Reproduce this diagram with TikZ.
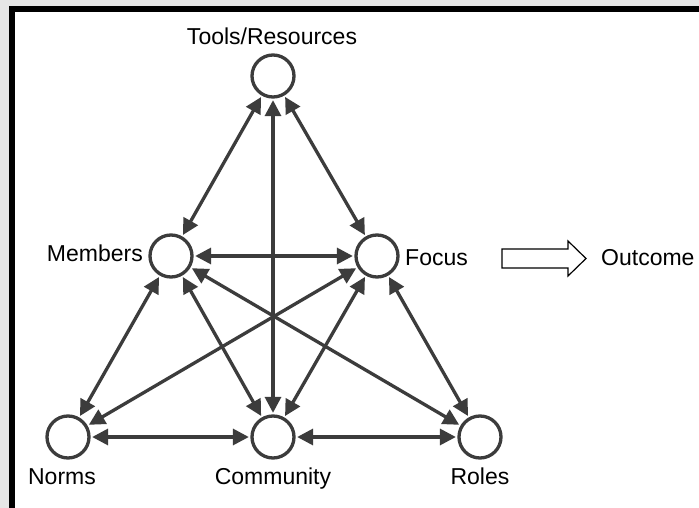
\documentclass[tikz,border=0pt]{standalone}
\usepackage{fontspec}
\setmainfont{Liberation Sans}
\usetikzlibrary{arrows.meta}

\definecolor{edgegray}{HTML}{3C3C3C}
\definecolor{framegray}{HTML}{E6E6E6}

\tikzset{
  member/.style={circle, draw=edgegray, line width=3.3pt, fill=white,
    minimum size=42pt, inner sep=0pt},
  caption/.style={font=\fontsize{23}{27}\selectfont, inner sep=0pt, anchor=base},
  link/.style={draw=edgegray, line width=3.3pt,
    {Triangle[length=16pt,width=16pt]}-{Triangle[length=16pt,width=16pt]},
    shorten <=1.5pt, shorten >=1.5pt}
}

\begin{document}
\begin{tikzpicture}[x=1pt,y=-1pt]
    % frame
    \fill[framegray] (0,0) rectangle (699,508);
    \fill[black] (9,6) rectangle (699,508);
    \fill[white] (15,12) rectangle (699,508);
    \useasboundingbox (0,0) rectangle (699,508);

    % activity system nodes
    \node[member] (tools) at (273,76) {};
    \node[member] (members) at (171,256) {};
    \node[member] (focus) at (377,256) {};
    \node[member] (norms) at (68,437) {};
    \node[member] (community) at (273,437) {};
    \node[member] (roles) at (480,437) {};

    % labels
    \node[caption] (toolsText) at (272,45) {Tools/Resources};
    \node[caption, anchor=base east] (membersText) at (143,261) {Members};
    \node[caption, anchor=base west] (focusText) at (405,265) {Focus};
    \node[caption] (normsText) at (62,484) {Norms};
    \node[caption] (communityText) at (273,484) {Community};
    \node[caption] (rolesText) at (480,484) {Roles};
    \node[caption, anchor=base west] (outcomeText) at (601,265) {Outcome};

    % links
    \draw[link] (tools) -- (members);
    \draw[link] (tools) -- (focus);
    \draw[link] (tools) -- (community);
    \draw[link] (members) -- (focus);
    \draw[link] (members) -- (norms);
    \draw[link] (members) -- (community);
    \draw[link] (members) -- (roles);
    \draw[link] (focus) -- (norms);
    \draw[link] (focus) -- (community);
    \draw[link] (focus) -- (roles);
    \draw[link] (norms) -- (community);
    \draw[link] (community) -- (roles);

    % block arrow to outcome
    \draw[line width=1.2pt, line join=miter, fill=white]
      (502,249) -- (568,249) -- (568,241) -- (586,258.5) -- (568,276)
      -- (568,268) -- (502,268) -- cycle;
\end{tikzpicture}
\end{document}
